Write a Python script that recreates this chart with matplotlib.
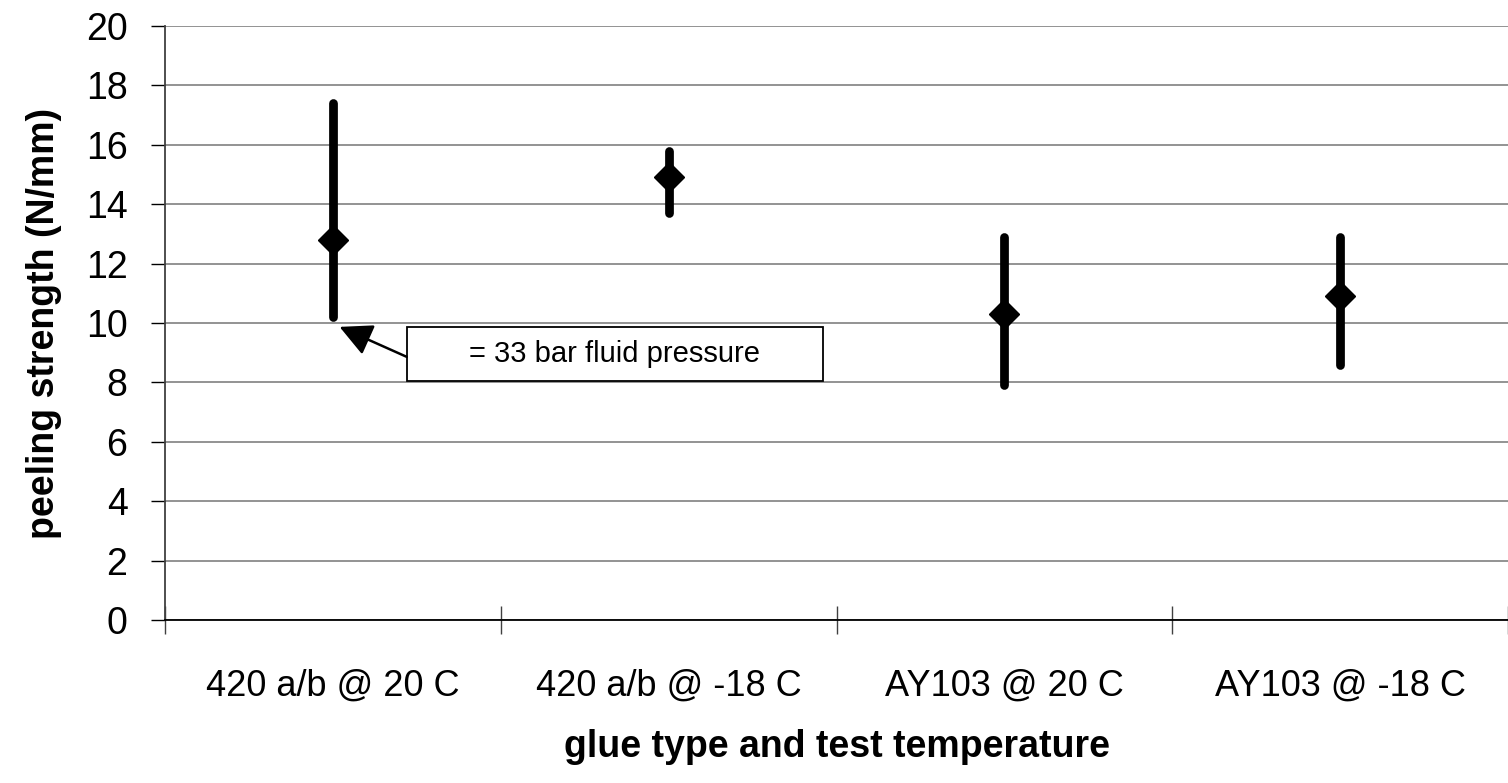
import matplotlib
matplotlib.use("Agg")
import matplotlib.pyplot as plt
import numpy as np

plt.rcParams['font.family'] = ['Liberation Sans', 'DejaVu Sans']

# peeling strength per glue type / temperature (N/mm)
categories = ["420 a/b @ 20 C", "420 a/b @ -18 C", "AY103 @ 20 C", "AY103 @ -18 C"]
mean_vals = [12.8, 14.9, 10.3, 10.9]
min_vals = [10.2, 13.7, 7.9, 8.6]
max_vals = [17.4, 15.8, 12.9, 12.9]
yticks = [0, 2, 4, 6, 8, 10, 12, 14, 16, 18, 20]

fig = plt.figure(figsize=(15.08, 7.83), dpi=100)
ax = fig.add_axes([165 / 1508, 1 - 620 / 783, 1 - 165 / 1508, (620 - 26) / 783])

pos = np.arange(len(categories)) + 0.5
ax.vlines(pos, min_vals, max_vals, color="black", lw=6.3, capstyle="round", zorder=3)
ax.plot(pos, mean_vals, "D", color="black", ms=15, ls="none", zorder=4)

ax.set_xlim(0, len(categories))
ax.set_ylim(0, 20)
ax.set_yticks(yticks)
ax.yaxis.grid(True, color="#808080", lw=1.2)
ax.set_axisbelow(True)

# category boundaries as major ticks, labels on minor ticks
ax.set_xticks(np.arange(len(categories) + 1))
ax.set_xticklabels([])
ax.set_xticks(pos, minor=True)
ax.set_xticklabels(categories, minor=True, fontsize=26)
ax.tick_params(axis="x", which="major", direction="inout", length=20, width=1, color="#404040")
ax.tick_params(axis="x", which="minor", length=0, pad=35)
ax.tick_params(axis="y", direction="out", length=10, width=1, pad=17, labelsize=27)

for s in ["top", "right"]:
    ax.spines[s].set_visible(False)
ax.spines["left"].set_color("#404040")
ax.spines["left"].set_linewidth(1.3)
ax.spines["bottom"].set_linewidth(1.3)

ax.set_xlabel("glue type and test temperature", fontsize=27, fontweight="bold", labelpad=18)
ax.set_ylabel("peeling strength (N/mm)", fontsize=27, fontweight="bold", labelpad=17)

# callout box with arrow to the low end of the first bar
box = plt.Rectangle((0.72, 8.05), 1.24, 1.82, facecolor="white", edgecolor="black",
                    lw=1.3, zorder=5)
ax.add_patch(box)
ax.text(1.34, 8.96, "= 33 bar fluid pressure", fontsize=21, ha="center", va="center", zorder=6)
ax.annotate("", xy=(0.52, 9.87), xytext=(0.72, 8.86),
            arrowprops=dict(arrowstyle="-|>", color="black", lw=1.8, mutation_scale=50,
                            shrinkA=0, shrinkB=0), zorder=6)

fig.savefig("out.png", dpi=100)
